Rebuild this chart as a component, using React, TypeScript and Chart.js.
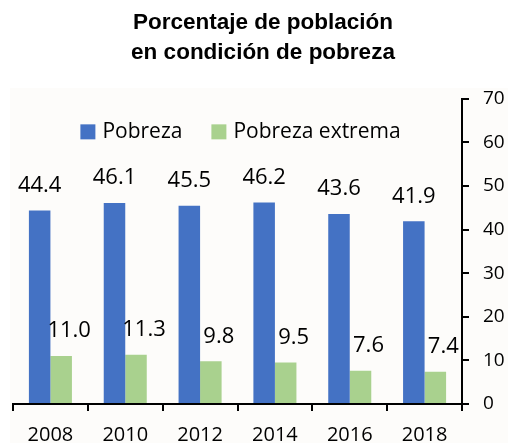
import React, { useEffect, useRef } from "react";
import { Chart, registerables } from "chart.js";

Chart.register(...registerables);

const categories = ["2008", "2010", "2012", "2014", "2016", "2018"];
const pobreza = [44.4, 46.1, 45.5, 46.2, 43.6, 41.9];
const pobrezaExtrema = [11.0, 11.3, 9.8, 9.5, 7.6, 7.4];
const seriesNames = ["Pobreza", "Pobreza extrema"];
const titleLines = ["Porcentaje de población", "en condición de pobreza"];
const yMin = 0;
const yMax = 70;
const yStep = 10;

const BLUE = "#4472c4";
const GREEN = "#a9d18e";
const FONT = "'Open Sans', Lato, sans-serif";

const backgroundPlugin = {
  id: "panelBg",
  beforeDraw(chart: any) {
    const { ctx, chartArea, width, height } = chart;
    ctx.save();
    ctx.fillStyle = "#fdfcfa";
    const x0 = chartArea.left - 3;
    const y0 = chartArea.top - 11;
    ctx.fillRect(x0, y0, width - x0 - 5, height - y0);
    ctx.restore();
  },
};

const legendPlugin = {
  id: "customLegend",
  afterDraw(chart: any) {
    const { ctx, chartArea } = chart;
    ctx.save();
    ctx.font = `21px ${FONT}`;
    ctx.textBaseline = "middle";
    ctx.textAlign = "left";
    const box = 15;
    const gapText = 7;
    const gapItem = 29;
    const items = chart.data.datasets.map((ds: any) => ({
      label: ds.label,
      color: ds.backgroundColor,
      w: ctx.measureText(ds.label).width,
    }));
    const total =
      items.reduce((s: number, it: any) => s + box + gapText + it.w, 0) +
      gapItem * (items.length - 1);
    let x = (chartArea.left + chartArea.right) / 2 + 3 - total / 2;
    const cy = chartArea.top + 33;
    for (const it of items) {
      ctx.fillStyle = it.color;
      ctx.fillRect(x, cy - box / 2, box, box);
      ctx.fillStyle = "#000";
      ctx.fillText(it.label, x + box + gapText, cy);
      x += box + gapText + it.w + gapItem;
    }
    ctx.restore();
  },
};

const valueLabelPlugin = {
  id: "valueLabels",
  afterDatasetsDraw(chart: any) {
    const { ctx } = chart;
    ctx.save();
    ctx.font = `22px ${FONT}`;
    ctx.fillStyle = "#000";
    ctx.textAlign = "center";
    ctx.textBaseline = "middle";
    chart.data.datasets.forEach((ds: any, i: number) => {
      const meta = chart.getDatasetMeta(i);
      meta.data.forEach((el: any, j: number) => {
        const v = ds.data[j] as number;
        ctx.fillText(v.toFixed(1), el.x + (i === 1 ? 8 : 0), el.y - 25);
      });
    });
    ctx.restore();
  },
};

export default function App() {
  const ref = useRef<HTMLCanvasElement | null>(null);

  useEffect(() => {
    if (!ref.current) return;
    const chart = new Chart(ref.current, {
      type: "bar",
      data: {
        labels: categories,
        datasets: [
          {
            label: seriesNames[0],
            data: pobreza,
            backgroundColor: BLUE,
            barPercentage: 1,
            categoryPercentage: 0.575,
          },
          {
            label: seriesNames[1],
            data: pobrezaExtrema,
            backgroundColor: GREEN,
            barPercentage: 1,
            categoryPercentage: 0.575,
          },
        ],
      },
      options: {
        responsive: false,
        animation: false,
        devicePixelRatio: 1,
        layout: { padding: { left: 13, right: 0, top: 0, bottom: 0 } },
        plugins: {
          legend: { display: false },
          tooltip: { enabled: false },
          title: {
            display: true,
            text: titleLines,
            color: "#000",
            font: { family: "'Liberation Sans', Arial, sans-serif", size: 22.5, weight: "bold", lineHeight: 1.33 },
            padding: { top: 8, bottom: 31 },
          },
        },
        scales: {
          x: {
            grid: {
              offset: true,
              drawOnChartArea: false,
              drawTicks: true,
              tickLength: 7,
              color: "#000",
              lineWidth: 2,
            },
            border: { display: true, color: "#000", width: 2 },
            ticks: { color: "#000", font: { family: FONT, size: 20 }, padding: 12 },
            afterFit: (s: any) => {
              s.height = 39;
            },
          },
          y: {
            position: "right",
            min: yMin,
            max: yMax,
            grid: {
              drawOnChartArea: false,
              drawTicks: true,
              tickLength: 7,
              color: "#000",
              lineWidth: 2,
            },
            border: { display: true, color: "#000", width: 2 },
            ticks: { stepSize: yStep, color: "#000", font: { family: FONT, size: 19 }, padding: 14 },
            afterFit: (s: any) => {
              s.width = 51;
            },
          },
        },
      } as any,
      plugins: [backgroundPlugin, legendPlugin, valueLabelPlugin],
    });
    return () => chart.destroy();
  }, []);

  return (
    <div style={{ position: "fixed", left: 0, top: 0, width: 513, height: 443, background: "#fff" }}>
      <canvas ref={ref} width={513} height={443} />
    </div>
  );
}
